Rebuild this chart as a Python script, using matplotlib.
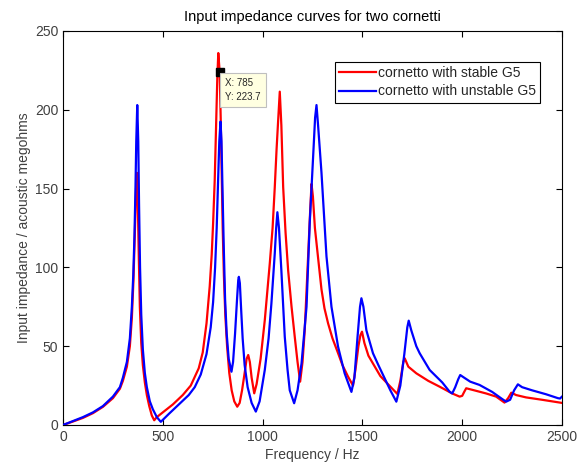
import matplotlib
matplotlib.use('Agg')
import matplotlib.pyplot as plt

plt.rcParams['font.family'] = ['Liberation Sans', 'DejaVu Sans']

# (frequency Hz, impedance)
stable_f = [0, 50, 100, 150, 200, 250, 285, 300, 320, 335, 345, 353, 360, 366, 370, 374, 380,
            385, 392, 400, 410, 420, 432, 445, 457, 470, 500, 550, 600, 640, 680, 700, 719,
            735, 745, 752, 760, 767, 773, 778, 785, 790, 795, 800, 806, 813, 822, 833, 845,
            858, 873, 885, 897, 910, 920, 928, 936, 945, 958, 970, 990, 1011, 1036, 1050, 1061,
            1070, 1078, 1086, 1094, 1103, 1115, 1128, 1145, 1161, 1175, 1188, 1200, 1211, 1228,
            1238, 1245, 1252, 1262, 1278, 1295, 1310, 1328, 1350, 1378, 1400, 1428, 1453, 1465,
            1480, 1490, 1498, 1510, 1530, 1553, 1590, 1620, 1650, 1675, 1690, 1705, 1712, 1730,
            1770, 1830, 1887, 1950, 1987, 2000, 2010, 2020, 2060, 2120, 2170, 2212, 2230, 2246,
            2270, 2320, 2400, 2500]
stable_z = [0, 2.2, 4.5, 7.5, 11.5, 17, 23, 28, 37, 50, 68, 92, 122, 150, 160, 146, 105,
            75, 52, 38, 27, 19, 12, 6, 3, 5, 8, 13, 19, 25, 36, 46, 64.5,
            88, 108, 128, 155, 190, 220, 236, 223.7, 195, 160, 125, 95, 70, 50, 33, 22,
            15, 11.6, 14, 22, 33, 42, 44.4, 40, 30, 20.1, 26, 42, 66.6, 102.6, 125, 151,
            175, 193.5, 211.5, 190, 151, 122, 98, 75, 56, 40, 27.5, 40, 60, 107,
            135, 153, 145, 125, 106, 86, 74, 64.5, 55, 45.6, 38, 30.7, 25, 35,
            50, 57, 59.2, 52, 44, 39, 31, 27, 23, 19.7, 28, 40, 42.3, 37,
            32.8, 28, 24.3, 20, 18, 18.5, 21, 23.3, 22, 20, 18, 14.2, 17, 20.5,
            19, 17.5, 16, 14]

unstable_f = [0, 50, 100, 150, 200, 250, 285, 300, 320, 335, 345, 352, 358, 363, 367, 372, 377,
              381, 386, 392, 400, 410, 420, 435, 450, 470, 490, 530, 580, 630, 660, 690, 719,
              740, 752, 762, 770, 777, 783, 789, 794, 799, 805, 812, 820, 830, 844, 852, 862,
              872, 878, 881, 886, 893, 900, 910, 925, 945, 966, 985, 1011, 1030, 1044, 1061,
              1068, 1074, 1082, 1094, 1111, 1125, 1136, 1158, 1175, 1195, 1220, 1236, 1253,
              1263, 1270, 1278, 1295, 1320, 1345, 1378, 1411, 1445, 1460, 1475, 1488, 1495,
              1505, 1520, 1553, 1580, 1610, 1640, 1670, 1690, 1710, 1725, 1732, 1745, 1770,
              1787, 1837, 1900, 1937, 1950, 1965, 1980, 1990, 2010, 2040, 2087, 2150, 2200,
              2220, 2240, 2260, 2279, 2300, 2350, 2420, 2480, 2490, 2500]
unstable_z = [0, 2.5, 5, 8, 12, 18, 24, 30, 40, 55, 75, 95, 120, 150, 180, 203, 180,
              140, 100, 70, 48, 33, 24, 15, 10, 5, 2, 7, 13, 19, 24, 32, 45,
              62, 78, 100, 125, 155, 180, 192.5, 180, 150, 115, 80, 58, 42, 33.8, 40, 58,
              80, 92, 94, 90, 72, 55, 38, 24, 14, 8.5, 15, 35, 55, 77, 109,
              125, 135, 125, 98, 56, 35, 22, 13.8, 22, 39, 75, 128, 170,
              195, 203, 190, 160, 107, 75, 49.7, 32.8, 21, 30, 55, 75, 80.4,
              75, 60, 45.5, 38, 30, 22, 14.8, 25, 45, 62, 66.2, 60, 50,
              45.5, 34.9, 27, 21.1, 20, 24, 29, 31.7, 30, 27.5, 25.4, 21, 16.5,
              14.8, 16, 22, 25.8, 24, 22, 19.5, 17, 16.8, 18]

tip_x, tip_y = 785, 223.7

fig = plt.figure(figsize=(5.85, 4.63), dpi=100)
ax = fig.add_axes([0.1077, 0.0821, 0.853, 0.851])

ax.plot(stable_f, stable_z, color='#ff0000', lw=1.6, label='cornetto with stable G5', zorder=2)
ax.plot(unstable_f, unstable_z, color='#0000ff', lw=1.6, label='cornetto with unstable G5', zorder=3)

# data cursor
ax.plot([tip_x], [tip_y], 's', color='black', ms=6, zorder=5)
ax.annotate(f'X: {tip_x}\nY: {tip_y}', xy=(tip_x, tip_y), xytext=(4, -4),
            textcoords='offset points', ha='left', va='top', fontsize=7, color='0.15',
            linespacing=1.55,
            bbox=dict(boxstyle='square,pad=0.5', fc='#ffffe1', ec='0.75', lw=0.8), zorder=6)

ax.set_xlim(0, 2500)
ax.set_ylim(0, 250)
ax.set_xticks([0, 500, 1000, 1500, 2000, 2500])
ax.set_yticks([0, 50, 100, 150, 200, 250])
ax.tick_params(direction='in', length=4, width=0.8, top=True, right=True,
               labelsize=10, labelcolor='0.25', pad=3.5)
for s in ax.spines.values():
    s.set_linewidth(0.8)

ax.set_xlabel('Frequency / Hz', fontsize=10, color='0.25', labelpad=3)
ax.set_ylabel('Input impedance / acoustic megohms', fontsize=10, color='0.25', labelpad=3)
ax.set_title('Input impedance curves for two cornetti', fontsize=10.5, color='black', pad=7)

leg = ax.legend(loc='upper right', bbox_to_anchor=(0.956, 0.921), fontsize=10,
                frameon=True, fancybox=False, framealpha=1, edgecolor='black',
                borderpad=0.3, handlelength=2.65, handletextpad=0.15, labelspacing=0.3,
                borderaxespad=0)
leg.get_frame().set_linewidth(0.8)
for t in leg.get_texts():
    t.set_color('0.15')

fig.savefig('out.png', dpi=100)
